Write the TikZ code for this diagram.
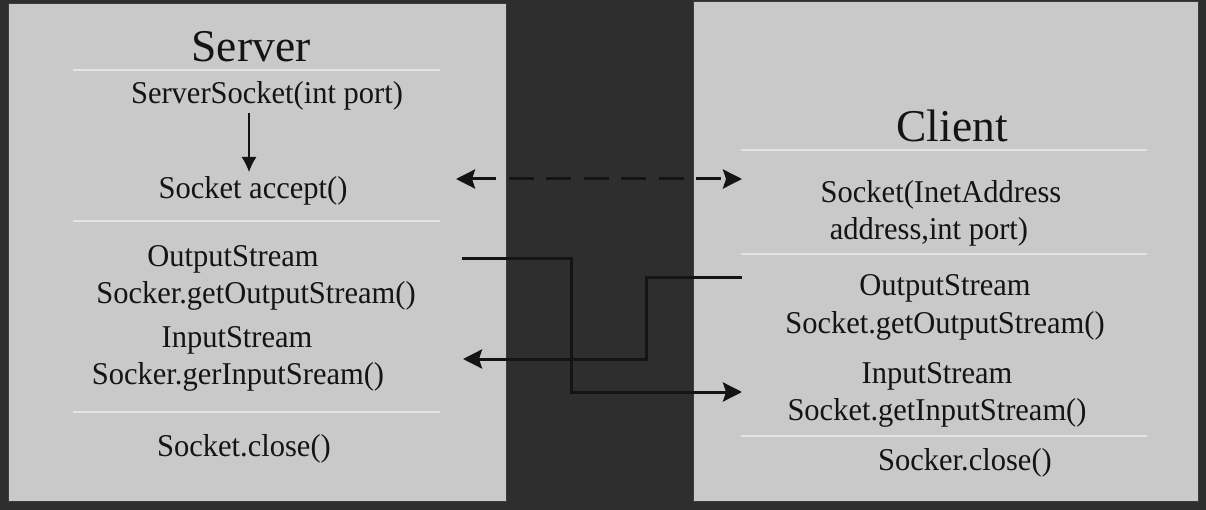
\documentclass[tikz,border=0pt]{standalone}
\usepackage{fontspec}
\setmainfont{Liberation Serif}
\usetikzlibrary{arrows.meta}
\definecolor{bgc}{HTML}{2E2E2E}
\definecolor{panelc}{HTML}{C9C9C9}
\definecolor{panelborder}{HTML}{3C3C3C}
\definecolor{sepc}{HTML}{E4E4E4}
\definecolor{inkc}{HTML}{141414}
\begin{document}
\begin{tikzpicture}[x=1pt,y=-1pt,
  txt/.style={anchor=base,inner sep=0pt,text=inkc,font=\fontsize{30.5}{36}\selectfont,yscale=1.04},
  ttl/.style={anchor=base,inner sep=0pt,text=inkc,font=\fontsize{45.5}{54}\selectfont},
  panel/.style={fill=panelc,draw=panelborder,line width=1pt},
  sepline/.style={draw=sepc,line width=1.5pt},
  link/.style={draw=inkc,line width=3pt},
  bighead/.style={-{Stealth[length=19pt,width=19pt,inset=3pt]}},
  dblhead/.style={{Stealth[length=19pt,width=19pt,inset=3pt]}-{Stealth[length=19pt,width=19pt,inset=3pt]}},
  dashline/.style={dash pattern=on 25pt off 12.5pt},
  thinarrow/.style={draw=inkc,line width=1.2pt,-{Latex[length=15pt,width=15pt]}}]
\fill[bgc] (0,0) rectangle (1206,510);
\useasboundingbox (0,0) rectangle (1206,510);
% panels
\path[panel] (8,4) rectangle (506,501);
\path[panel] (693,2) rectangle (1198,501);
% separators
\draw[sepline] (73,70) -- (440,70);
\draw[sepline] (73,221) -- (440,221);
\draw[sepline] (73,412) -- (440,412);
\draw[sepline] (741,150) -- (1147,150);
\draw[sepline] (741,254) -- (1147,254);
\draw[sepline] (741,436) -- (1147,436);
% server texts
\node[ttl] (server) at (251,62) {Server};
\node[txt] (ssock) at (267,104) {ServerSocket(int port)};
\node[txt] (accept) at (253,199) {Socket accept()};
\node[txt] (sout1) at (233,267) {OutputStream};
\node[txt] (sout2) at (256,304) {Socker.getOutputStream()};
\node[txt] (sin1) at (237,347) {InputStream};
\node[txt] (sin2) at (238,384) {Socker.gerInputSream()};
\node[txt] (sclose) at (244,456) {Socket.close()};
% client texts
\node[ttl] (client) at (952,142) {Client};
\node[txt] (csock1) at (941,203) {Socket(InetAddress};
\node[txt] (csock2) at (929,240) {address,int port)};
\node[txt] (cout1) at (945,295) {OutputStream};
\node[txt] (cout2) at (945,333) {Socket.getOutputStream()};
\node[txt] (cin1) at (937,383) {InputStream};
\node[txt] (cin2) at (937,420) {Socket.getInputStream()};
\node[txt] (cclose) at (965,470) {Socker.close()};
% connector ends
\coordinate (vTop) at (249,113);
\coordinate (vBot) at (249,172);
\coordinate (sAcc) at (456,179);
\coordinate (cSock) at (742,179);
\coordinate (sOut) at (462,259);
\coordinate (cIn) at (742,392);
\coordinate (cOut) at (742,278);
\coordinate (sIn) at (463,359);
% connectors
\draw[thinarrow] (vTop) -- (vBot);
\draw[link,dashline,dblhead] (sAcc) -- (cSock);
\draw[link,bighead] (sOut) -- ++(109,0) |- (cIn);
\draw[link,bighead] (cOut) -- ++(-96,0) |- (sIn);
\end{tikzpicture}
\end{document}
